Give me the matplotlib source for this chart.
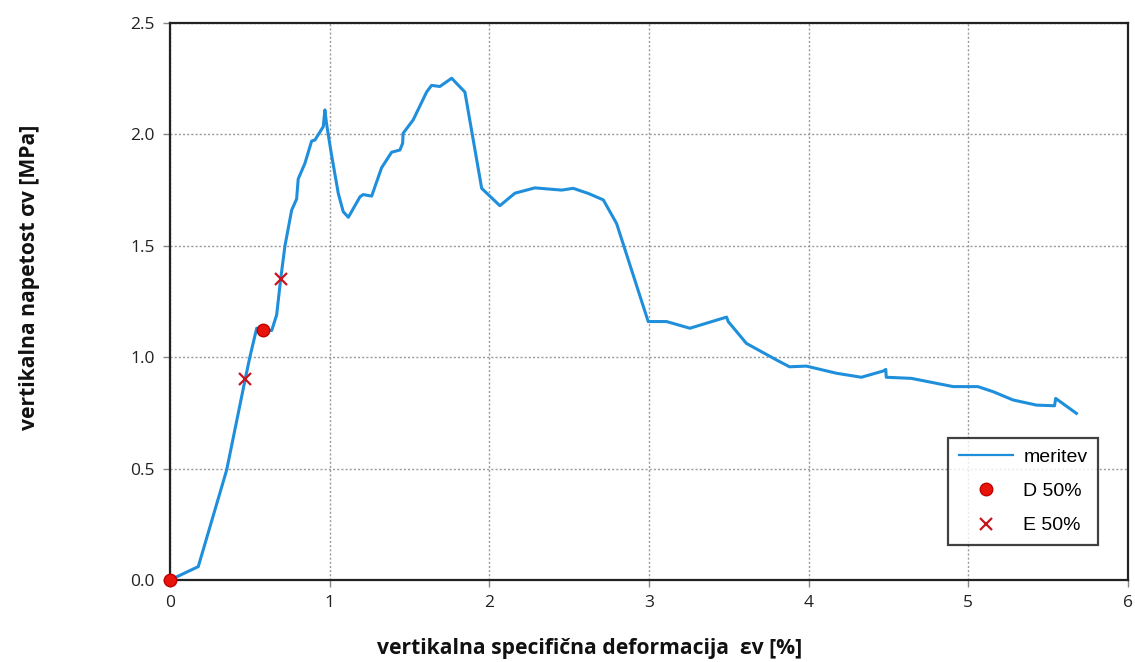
import matplotlib
matplotlib.use("Agg")
import matplotlib.pyplot as plt

# measured curve "meritev"
strain = [0.0, 0.177, 0.355, 0.47, 0.50, 0.543, 0.584, 0.637, 0.668, 0.693, 0.72, 0.762,
          0.793, 0.803, 0.845, 0.887, 0.908, 0.96, 0.97, 0.98, 1.01, 1.054, 1.085, 1.117,
          1.19, 1.21, 1.263, 1.325, 1.388, 1.44, 1.457, 1.46, 1.523, 1.607, 1.638, 1.69,
          1.764, 1.847, 1.952, 2.066, 2.16, 2.285, 2.453, 2.525, 2.62, 2.714, 2.797, 2.995,
          3.11, 3.256, 3.486, 3.496, 3.61, 3.80, 3.88, 3.986, 4.174, 4.33, 4.467, 4.483,
          4.486, 4.643, 4.905, 5.06, 5.156, 5.28, 5.427, 5.54, 5.547, 5.677]
stress = [0.0, 0.06, 0.494, 0.898, 1.0, 1.13, 1.12, 1.12, 1.19, 1.35, 1.50, 1.66,
          1.71, 1.80, 1.87, 1.97, 1.975, 2.035, 2.11, 2.05, 1.915, 1.735, 1.653, 1.628,
          1.72, 1.73, 1.723, 1.85, 1.92, 1.93, 1.96, 2.005, 2.065, 2.19, 2.22, 2.215,
          2.252, 2.19, 1.758, 1.68, 1.736, 1.76, 1.75, 1.758, 1.735, 1.706, 1.60, 1.16,
          1.16, 1.13, 1.18, 1.16, 1.062, 0.987, 0.957, 0.96, 0.928, 0.91, 0.938, 0.945,
          0.91, 0.905, 0.868, 0.868, 0.845, 0.808, 0.785, 0.782, 0.815, 0.748]

# D 50% points
d_strain = [0.0, 0.584]
d_stress = [0.0, 1.12]
# E 50% points
e_strain = [0.47, 0.693]
e_stress = [0.90, 1.35]

series_labels = ["meritev", "D 50%", "E 50%"]
x_ticks = [0, 1, 2, 3, 4, 5, 6]
y_ticks = [0.0, 0.5, 1.0, 1.5, 2.0, 2.5]
x_label = "vertikalna specifična deformacija  εv [%]"
y_label = "vertikalna napetost σv [MPa]"

fig = plt.figure(figsize=(11.35, 6.62), dpi=100)
ax = fig.add_axes([170 / 1135, 82 / 662, 958 / 1135, 557 / 662])

ax.plot(strain, stress, color="#1f8fdc", lw=2.2, label=series_labels[0], zorder=3)
ax.plot(d_strain, d_stress, ls="none", marker="o", ms=9, color="#e8140c",
        markeredgecolor="#c00000", label=series_labels[1], zorder=5, clip_on=False)
ax.plot(e_strain, e_stress, ls="none", marker="x", ms=9, mew=1.6, color="#c8141c",
        label=series_labels[2], zorder=5)

ax.set_xlim(0, 6)
ax.set_ylim(0, 2.5)
ax.set_xticks(x_ticks)
ax.set_xticklabels([str(v) for v in x_ticks])
ax.set_yticks(y_ticks)
ax.set_yticklabels([f"{v:.1f}" for v in y_ticks])

ax.grid(True, color="#9a9a9a", ls=(0, (1.5, 1.5)), lw=1.0)
for s in ax.spines.values():
    s.set_color("#222222")
    s.set_linewidth(1.6)

ax.tick_params(direction="out", length=5, width=1, color="#888888",
               labelsize=12.5, labelcolor="#222222", pad=6)
for lab in ax.get_xticklabels() + ax.get_yticklabels():
    lab.set_family("Open Sans")

ax.set_xlabel(x_label, family="Open Sans", fontweight="bold", fontsize=15.2,
              color="#111111")
ax.set_ylabel(y_label, family="Open Sans", fontweight="bold", fontsize=15.2,
              color="#111111")
ax.xaxis.set_label_coords(0.438, -0.104)
ax.yaxis.set_label_coords(-0.136, 0.544)

leg = ax.legend(loc="lower right", bbox_to_anchor=(0.9687, 0.0628),
                borderaxespad=0.0,
                prop={"family": "Liberation Sans", "size": 14},
                frameon=True, fancybox=False, edgecolor="#111111",
                handlelength=2.8, borderpad=0.55, labelspacing=0.85,
                handletextpad=0.5)
leg.get_frame().set_linewidth(1.6)
leg.get_lines()[0].set_linewidth(1.6)

fig.savefig("out.png", dpi=100)
